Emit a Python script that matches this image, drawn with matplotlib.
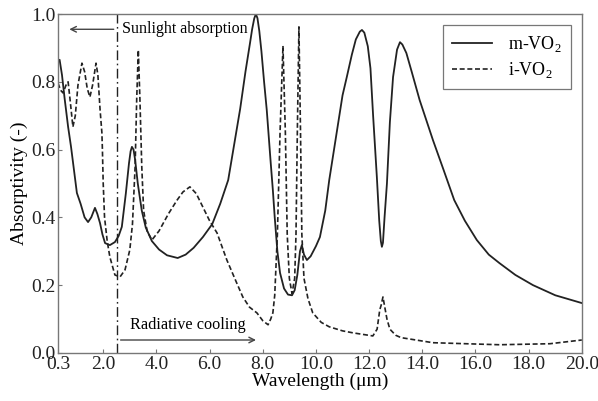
import numpy as np
import matplotlib
matplotlib.use("Agg")
import matplotlib.pyplot as plt

plt.rcParams["font.family"] = ["Liberation Serif", "DejaVu Serif"]
plt.rcParams["mathtext.fontset"] = "custom"
plt.rcParams["mathtext.rm"] = "Liberation Serif"

# m-VO2 (solid)
m_wl = [0.3, 0.36, 0.45, 0.55, 0.68, 0.79, 0.9, 1.01, 1.15, 1.3, 1.43, 1.55, 1.69, 1.78, 1.88,
        1.97, 2.07, 2.25, 2.44, 2.58, 2.7, 2.85, 2.97, 3.03, 3.08, 3.14, 3.2, 3.3, 3.45, 3.6, 3.83, 4.1,
        4.4, 4.8, 5.1, 5.4, 5.75, 6.1, 6.4, 6.7, 7.0, 7.15, 7.35, 7.52, 7.6, 7.68, 7.74, 7.8, 7.87, 7.95,
        8.05, 8.15, 8.3, 8.38, 8.45, 8.55, 8.65, 8.8, 8.95, 9.1, 9.2, 9.3, 9.4, 9.47, 9.55, 9.66,
        9.8, 10.0, 10.15, 10.35, 10.5, 10.8, 11.0, 11.16, 11.35, 11.5, 11.65, 11.73, 11.82, 11.95, 12.05, 12.15,
        12.29, 12.38, 12.44, 12.48, 12.52, 12.58, 12.67, 12.78, 12.9, 13.05, 13.16, 13.25, 13.4, 13.6, 13.9, 14.4,
        14.8, 15.2, 15.6, 16.05, 16.5, 16.9, 17.5, 18.16, 19.0, 20.0]
m_abs = [0.86, 0.865, 0.82, 0.75, 0.667, 0.608, 0.54, 0.472, 0.44, 0.40, 0.386, 0.40, 0.428, 0.41, 0.383,
         0.35, 0.324, 0.318, 0.327, 0.345, 0.372, 0.47, 0.56, 0.595, 0.608, 0.60, 0.57, 0.50, 0.42, 0.37, 0.33, 0.305,
         0.288, 0.28, 0.29, 0.31, 0.342, 0.38, 0.44, 0.51, 0.65, 0.72, 0.83, 0.914, 0.955, 0.987, 1.0, 0.988, 0.95, 0.89,
         0.80, 0.717, 0.56, 0.48, 0.40, 0.30, 0.236, 0.19, 0.172, 0.17, 0.185, 0.23, 0.30, 0.318, 0.29, 0.274,
         0.285, 0.315, 0.342, 0.42, 0.51, 0.66, 0.76, 0.814, 0.88, 0.925, 0.948, 0.953, 0.945, 0.905, 0.84, 0.70,
         0.52, 0.39, 0.33, 0.313, 0.325, 0.40, 0.50, 0.68, 0.814, 0.895, 0.917, 0.91, 0.885, 0.83, 0.746, 0.628,
         0.54, 0.451, 0.39, 0.333, 0.29, 0.265, 0.23, 0.2, 0.17, 0.147]

# i-VO2 (dashed)
i_wl = [0.3, 0.4, 0.49, 0.6, 0.68, 0.75, 0.86, 0.95, 1.05, 1.2, 1.3, 1.4, 1.5, 1.6, 1.73, 1.8,
        1.88, 1.95, 1.97, 2.0, 2.05, 2.15, 2.25, 2.44, 2.63, 2.82, 3.0, 3.1, 3.2, 3.26, 3.32,
        3.38, 3.45, 3.52, 3.65, 3.83, 4.1, 4.45, 4.77, 5.0, 5.26, 5.5, 5.75, 6.0, 6.28, 6.65,
        7.0, 7.25, 7.5, 7.78, 8.0, 8.2, 8.3, 8.38, 8.45, 8.55, 8.65, 8.76, 8.85, 8.92, 9.0,
        9.1, 9.2, 9.25, 9.3, 9.36, 9.42, 9.47, 9.55, 9.7, 9.88, 10.2, 10.5, 11.0, 11.4, 12.14,
        12.3, 12.4, 12.45, 12.52, 12.6, 12.67, 12.78, 13.0, 13.2, 14.4, 16.9, 18.8, 20.0]
i_abs = [0.796, 0.775, 0.767, 0.79, 0.80, 0.75, 0.667, 0.70, 0.79, 0.855, 0.83, 0.78, 0.755, 0.79, 0.855, 0.82,
         0.72, 0.65, 0.60, 0.50, 0.40, 0.33, 0.283, 0.23, 0.224, 0.245, 0.304, 0.38, 0.55, 0.75, 0.894,
         0.75, 0.55, 0.42, 0.36, 0.333, 0.36, 0.41, 0.45, 0.475, 0.49, 0.47, 0.43, 0.39, 0.354, 0.274,
         0.21, 0.165, 0.135, 0.118, 0.095, 0.083, 0.1, 0.118, 0.17, 0.35, 0.65, 0.906, 0.65, 0.35, 0.22,
         0.175, 0.22, 0.35, 0.65, 0.962, 0.65, 0.35, 0.22, 0.16, 0.118, 0.09, 0.077, 0.065, 0.059, 0.05,
         0.07, 0.127, 0.14, 0.165, 0.13, 0.1, 0.07, 0.052, 0.045, 0.03, 0.024, 0.027, 0.038]

x_ticks = [0.3, 2.0, 4.0, 6.0, 8.0, 10.0, 12.0, 14.0, 16.0, 18.0, 20.0]
y_ticks = [0.0, 0.2, 0.4, 0.6, 0.8, 1.0]
split_wl = 2.5

fig = plt.figure(figsize=(5.98, 4.01), dpi=100)
ax = fig.add_axes([0.097, 0.12, 0.876, 0.845])

ax.plot(m_wl, m_abs, color="#222222", lw=1.3, label="m-VO$_2$")
ax.plot(i_wl, i_abs, color="#222222", lw=1.2, dashes=(3, 1.6), label="i-VO$_2$")
ax.axvline(split_wl, color="#222222", lw=1.0, dashes=(7, 2.5, 1.2, 2.5))

arrow_col = "#444444"
ax.annotate("", xy=(0.62, 0.955), xytext=(split_wl, 0.955),
            arrowprops=dict(arrowstyle="->", color=arrow_col, lw=1.0))
ax.text(2.7, 0.955, "Sunlight absorption", fontsize=11.5, va="center", ha="left")
ax.annotate("", xy=(7.85, 0.038), xytext=(2.55, 0.038),
            arrowprops=dict(arrowstyle="->", color=arrow_col, lw=1.0))
ax.text(3.0, 0.083, "Radiative cooling", fontsize=11.7, va="center", ha="left")

ax.set_xlim(0.3, 20.0)
ax.set_ylim(0.0, 1.0)
ax.set_xticks(x_ticks)
ax.set_xticklabels(["%.1f" % t for t in x_ticks])
ax.set_yticks(y_ticks)
ax.set_yticklabels(["%.1f" % t for t in y_ticks])
ax.tick_params(direction="in", length=3, width=0.8, colors="#777777", labelsize=14,
               labelcolor="#222222", pad=2)

for s in ax.spines.values():
    s.set_color("#777777")
    s.set_linewidth(1.0)

ax.set_xlabel("Wavelength (\u03bcm)", fontsize=14, labelpad=0)
ax.set_ylabel("Absorptivity (-)", fontsize=14, labelpad=2)

leg = ax.legend(loc="upper right", fontsize=13, fancybox=False, framealpha=1,
                edgecolor="#777777", handlelength=2.2, handletextpad=0.9,
                borderaxespad=0.6, borderpad=0.5, labelspacing=0.35)
leg.get_frame().set_linewidth(0.9)

fig.savefig("out.png", dpi=100)
